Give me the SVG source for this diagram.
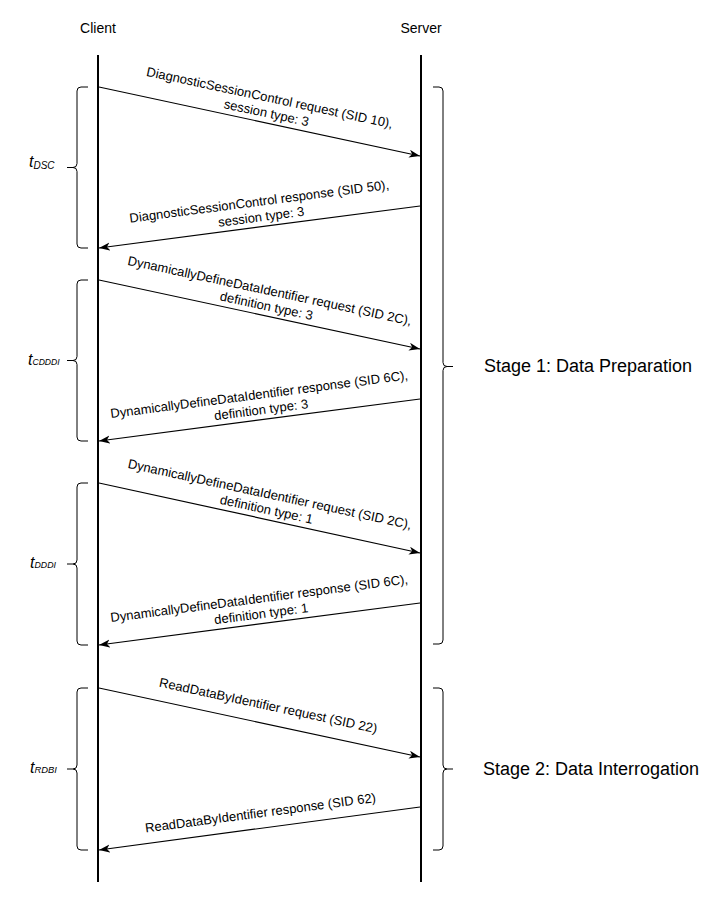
<svg xmlns="http://www.w3.org/2000/svg" width="703" height="910" viewBox="0 0 703 910">
<style>
text{font-family:"Liberation Sans",Arial,sans-serif;fill:#000}
.hdr{font-size:14px;text-anchor:middle}
.msg{font-size:13px;text-anchor:middle}
.stage{font-size:18px;text-anchor:middle}
.t{font-size:16px;font-style:italic}
.life{stroke:#000;stroke-width:2;fill:none}
.arr{stroke:#000;stroke-width:1.2;fill:none;marker-end:url(#ah)}
.brace{stroke:#000;stroke-width:1;fill:none}
</style>
<defs>
<marker id="ah" markerUnits="userSpaceOnUse" markerWidth="12" markerHeight="9" refX="11" refY="4" orient="auto">
<path d="M0,0 L11,4 L0,8 L3,4 Z" fill="#000"/>
</marker>
</defs>
<rect width="703" height="910" fill="#fff"/>

<g id="client">
<text class="hdr" x="98" y="33">Client</text>
<line class="life" x1="98" y1="55" x2="98" y2="882"/>
</g>
<g id="server">
<text class="hdr" x="421" y="33">Server</text>
<line class="life" x1="421" y1="55" x2="421" y2="882"/>
</g>

<g id="connectors">
<line class="arr" x1="99" y1="87" x2="420" y2="156"/>
<line class="arr" x1="420" y1="206" x2="99" y2="248"/>
<line class="arr" x1="99" y1="280" x2="420" y2="349"/>
<line class="arr" x1="420" y1="399" x2="99" y2="441"/>
<line class="arr" x1="99" y1="483" x2="420" y2="553"/>
<line class="arr" x1="420" y1="603" x2="99" y2="645"/>
<line class="arr" x1="99" y1="688" x2="420" y2="757"/>
<line class="arr" x1="420" y1="807" x2="99" y2="850"/>
</g>

<g id="labels">
<text class="msg" transform="translate(259.5,121.5) rotate(12.06)"><tspan x="5" y="-21">DiagnosticSessionControl request (SID 10),</tspan><tspan x="5" y="-5.5">session type: 3</tspan></text>
<text class="msg" transform="translate(259.5,227) rotate(-7.41)"><tspan x="3" y="-21">DiagnosticSessionControl response (SID 50),</tspan><tspan x="3" y="-5.5">session type: 3</tspan></text>
<text class="msg" transform="translate(259.5,314.5) rotate(12.06)"><tspan x="5" y="-21">DynamicallyDefineDataIdentifier request (SID 2C),</tspan><tspan x="5" y="-5.5">definition type: 3</tspan></text>
<text class="msg" transform="translate(259.5,420) rotate(-7.41)"><tspan x="3" y="-21">DynamicallyDefineDataIdentifier response (SID 6C),</tspan><tspan x="3" y="-5.5">definition type: 3</tspan></text>
<text class="msg" transform="translate(259.5,518) rotate(12.23)"><tspan x="5" y="-21">DynamicallyDefineDataIdentifier request (SID 2C),</tspan><tspan x="5" y="-5.5">definition type: 1</tspan></text>
<text class="msg" transform="translate(259.5,624) rotate(-7.41)"><tspan x="3" y="-21">DynamicallyDefineDataIdentifier response (SID 6C),</tspan><tspan x="3" y="-5.5">definition type: 1</tspan></text>
<text class="msg" transform="translate(259.5,722.5) rotate(12.06)"><tspan x="5" y="-14">ReadDataByIdentifier request (SID 22)</tspan></text>
<text class="msg" transform="translate(259.5,828.5) rotate(-7.58)"><tspan x="3" y="-11">ReadDataByIdentifier response (SID 62)</tspan></text>
</g>

<g id="brace-dsc">
<path class="brace" d="M88,87 H81 Q77,87 77,91 V163.5 Q77,167.5 73,167.5 H67 M73,167.5 Q77,167.5 77,171.5 V244 Q77,248 81,248 H88"/>
<text class="t" x="29" y="167">t<tspan font-size="10" dy="2">DSC</tspan></text>
</g>
<g id="brace-cdddi">
<path class="brace" d="M88,280 H81 Q77,280 77,284 V356.5 Q77,360.5 73,360.5 H67 M73,360.5 Q77,360.5 77,364.5 V437 Q77,441 81,441 H88"/>
<text class="t" x="28" y="365">t<tspan font-size="8.6" dy="0">CDDDI</tspan></text>
</g>
<g id="brace-dddi">
<path class="brace" d="M88,483 H81 Q77,483 77,487 V560 Q77,564 73,564 H67 M73,564 Q77,564 77,568 V641 Q77,645 81,645 H88"/>
<text class="t" x="30" y="568">t<tspan font-size="8.8" dy="0">DDDI</tspan></text>
</g>
<g id="brace-rdbi">
<path class="brace" d="M88,688 H81 Q77,688 77,692 V765 Q77,769 73,769 H67 M73,769 Q77,769 77,773 V846 Q77,850 81,850 H88"/>
<text class="t" x="30" y="773">t<tspan font-size="9.4" dy="0">RDBI</tspan></text>
</g>

<g id="stage1">
<path class="brace" d="M433,87 H439 Q443,87 443,91 V362.5 Q443,366.5 447,366.5 H453 M447,366.5 Q443,366.5 443,370.5 V640 Q443,644 439,644 H433"/>
<text class="stage" x="588" y="372">Stage 1: Data Preparation</text>
</g>
<g id="stage2">
<path class="brace" d="M433,688 H439 Q443,688 443,692 V765 Q443,769 447,769 H453 M447,769 Q443,769 443,773 V846 Q443,850 439,850 H433"/>
<text class="stage" x="591" y="775">Stage 2: Data Interrogation</text>
</g>
</svg>
